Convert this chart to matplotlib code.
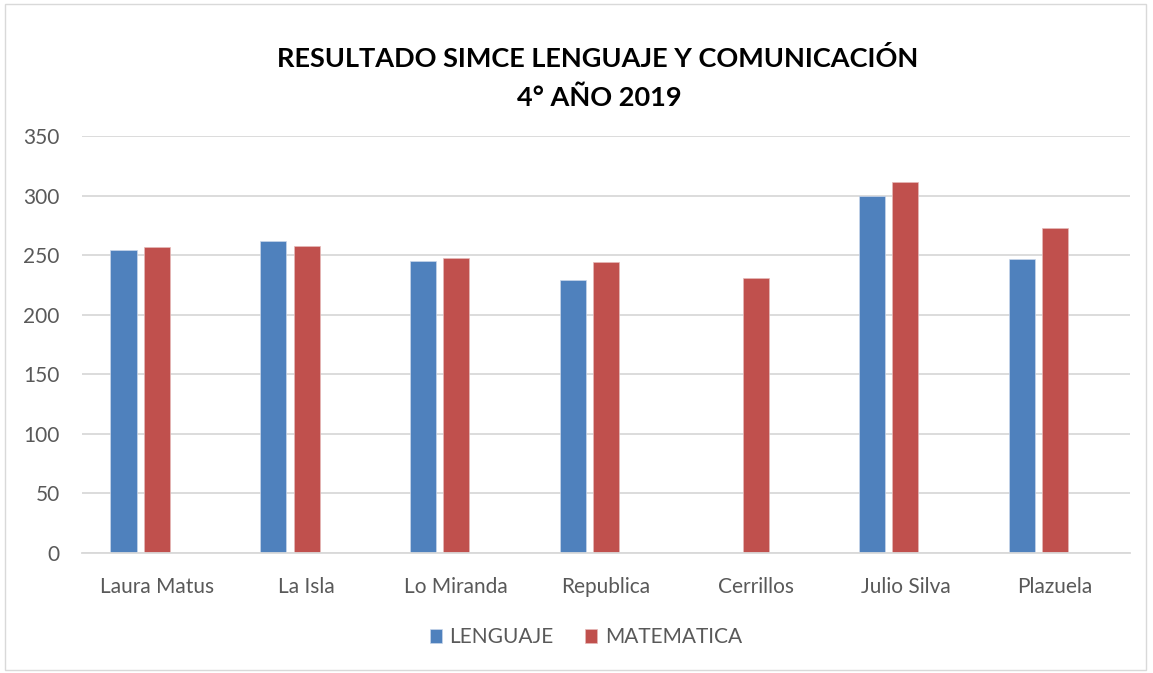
import numpy as np
import matplotlib.pyplot as plt
from matplotlib.patches import Rectangle

plt.rcParams['font.family'] = ['Lato', 'DejaVu Sans']

escuelas = ['Laura Matus', 'La Isla', 'Lo Miranda', 'Republica', 'Cerrillos', 'Julio Silva', 'Plazuela']
lenguaje = [254, 262, 245, 229, np.nan, 300, 247]
matematica = [257, 258, 248, 244, 231, 311, 273]

azul = '#4F81BD'
rojo = '#C0504D'
gris = '#595959'

fig = plt.figure(figsize=(11.53, 6.73), dpi=100)
ax = fig.add_axes([0.0711, 0.1783, 0.9089, 0.6196])

x = np.arange(len(escuelas))
w = 0.174
paso = 0.2225  # the chart keeps a third (empty) series slot on the right
ax.bar(x - paso, lenguaje, w, color=azul, label='LENGUAJE', edgecolor='#C9D6EA', linewidth=0.5)
ax.bar(x, matematica, w, color=rojo, label='MATEMATICA', edgecolor='#E6B9B8', linewidth=0.5)

ax.set_xlim(-0.5, len(escuelas) - 0.5)
ax.set_ylim(0, 350)
ax.set_yticks(range(0, 351, 50))
ax.yaxis.grid(True, color='#D9D9D9', linewidth=1.3)
ax.set_axisbelow(True)
for s in ['top', 'right', 'left']:
    ax.spines[s].set_visible(False)
ax.spines['bottom'].set_color('#D9D9D9')
ax.spines['bottom'].set_linewidth(1.3)
ax.tick_params(length=0, labelsize=15, colors=gris)
ax.tick_params(axis='y', pad=16)
ax.tick_params(axis='x', pad=17)
ax.set_xticks(x)
ax.set_xticklabels(escuelas)

fig.text(0.518, 0.913, 'RESULTADO SIMCE LENGUAJE Y COMUNICACIÓN', ha='center', va='center',
         fontsize=19.5, fontweight='bold', color='black')
fig.text(0.52, 0.855, '4° AÑO 2019', ha='center', va='center',
         fontsize=19.5, fontweight='bold', color='black')

fig.legend(loc='center', bbox_to_anchor=(0.508, 0.053), ncol=2, frameon=False,
           fontsize=15, labelcolor=gris, handlelength=0.6, handleheight=0.6,
           columnspacing=1.5, handletextpad=0.35)

fig.patches.append(Rectangle((0.004, 0.004), 0.99, 0.99, transform=fig.transFigure,
                             fill=False, edgecolor='#D9D9D9', linewidth=1))

fig.savefig('out.png', dpi=100)
